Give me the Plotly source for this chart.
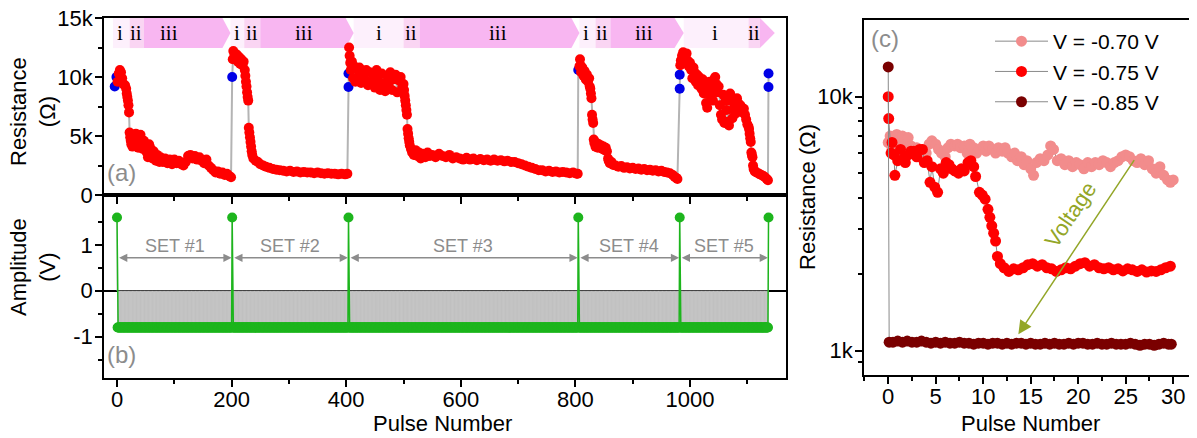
import math
import plotly.graph_objects as go

FONT = "Arial, Liberation Sans, sans-serif"
SERIF = "Times New Roman, Liberation Serif, serif"

# ---------------- Panel (a): resistance vs pulse number (kOhm) ----------------
BLUE_X = [-4, -1, 201, 404, 404, 805, 982, 982, 1137, 1137]
BLUE_R = [9.2, 10.0, 10.0, 9.15, 10.3, 10.6, 9.0, 10.2, 9.15, 10.3]

P1 = [1, 3, 5, 7, 9, 11, 13, 14, 16, 17, 18, 19, 20, 21,
      22, 23, 24, 25, 27, 29, 31, 33, 35, 37, 39, 41, 43, 45, 47, 49,
      52, 54, 56, 58, 60, 62, 64, 66, 68, 70, 72, 74,
      76, 80, 84, 88, 92, 96, 100, 104, 108, 112, 116, 120,
      124, 128, 132, 136, 140, 144,
      148, 152, 156, 160, 164,
      168, 172, 176, 180, 184, 188, 192, 196, 199]
R1 = [9.6, 10.3, 10.6, 10.4, 9.9, 9.4, 9.3, 9.3, 9.0, 8.6, 8.3, 8.0, 7.6, 7.0,
      5.3, 4.9, 4.6, 4.3, 4.1, 5.1, 4.8, 5.2, 4.5, 4.0, 5.0, 5.1, 4.2, 3.9, 4.6, 4.2,
      3.6, 3.2, 4.3, 4.0, 3.5, 3.1, 3.7, 3.3, 2.9, 3.4, 3.0, 2.8,
      3.2, 2.8, 3.1, 2.7, 3.0, 2.6, 3.0, 2.7, 2.9, 2.6, 2.5, 2.8,
      3.3, 3.4, 3.1, 3.3, 3.0, 3.2,
      2.9, 2.7, 3.0, 2.5, 2.3,
      2.1, 1.9, 2.0, 1.8, 1.9, 1.7, 1.8, 1.6, 1.5]

P2 = [202, 203, 205, 207, 209, 211, 213, 215, 217, 219, 221, 223, 224, 225, 226, 227, 228, 229,
      230, 231, 232, 233, 234, 235, 236,
      238, 242, 246, 250, 255, 260, 266, 272, 278, 284,
      290, 296, 302, 308, 314, 320, 326, 332, 338, 344, 350, 356, 362, 368, 374, 380, 386, 392, 398, 402]
R2 = [11.5, 12.2, 11.9, 11.5, 11.9, 11.3, 11.7, 11.1, 11.5, 11.0, 11.3, 10.6, 10.1, 9.6, 9.2, 8.7, 8.3, 8.0,
      5.7, 5.3, 4.9, 4.5, 4.1, 3.7, 3.4,
      3.1, 2.9, 2.8, 2.6, 2.5, 2.4, 2.3, 2.2, 2.15, 2.1,
      2.05, 2.0, 2.05, 1.95, 2.0, 1.9, 1.95, 1.9, 1.9, 1.85, 1.9, 1.85, 1.8, 1.85, 1.8, 1.8, 1.75, 1.8, 1.75, 1.8]

P3 = [405, 406, 407, 408, 410, 412, 414, 416, 418, 420, 423, 426, 429, 432, 435, 438, 441, 444,
      447, 450, 453, 456, 459, 462, 465, 468, 471, 474, 477, 480, 483, 486, 489, 492, 495, 498,
      500, 501, 502, 503, 504, 505, 506,
      507, 508, 509, 510, 511, 513, 515,
      518, 521, 524, 527, 530, 534, 538, 542, 546,
      550, 556, 562, 568, 574, 580, 586, 592, 598, 604, 610, 616, 622, 628, 634, 640,
      646, 652, 658, 664, 670, 676, 682, 688, 694, 700,
      706, 712, 718, 724, 730, 736,
      742, 748, 754, 760, 766, 772, 778, 784, 790, 796, 802, 804]
R3 = [12.5, 11.8, 11.2, 10.6, 11.3, 9.9, 10.9, 9.6, 10.7, 10.0, 10.8, 9.5, 10.5, 9.8, 10.6, 9.3, 10.4, 9.6,
      10.2, 9.1, 10.6, 9.7, 8.9, 10.3, 9.4, 8.8, 10.1, 9.5, 10.4, 8.9, 9.8, 10.2, 8.7, 9.7, 10.0, 9.2,
      9.4, 8.9, 8.4, 8.0, 7.6, 7.2, 6.8,
      5.6, 5.2, 4.8, 4.5, 4.2, 3.9, 3.6,
      3.4, 3.8, 3.3, 3.6, 3.1, 3.5, 3.2, 3.6, 3.3,
      3.4, 3.2, 3.5, 3.3, 3.2, 3.4, 3.1, 3.2, 3.1, 3.0, 3.15, 3.0, 3.1, 2.95, 3.05, 2.95,
      3.0, 2.9, 3.0, 2.9, 2.95, 2.85, 2.9, 2.8, 2.8, 2.7,
      2.6, 2.5, 2.4, 2.3, 2.2, 2.1,
      2.1, 2.0, 2.05, 1.95, 2.0, 1.9, 1.95, 1.9, 1.85, 1.9, 1.8, 1.8]

P4 = [807, 808, 809, 810, 812, 814, 816, 818, 820, 822, 824, 825, 826, 827, 828,
      829, 830, 831,
      832, 833, 835, 837, 839, 841, 843, 845, 847, 849, 851, 853, 855,
      857, 858, 860, 863, 866,
      870, 875, 880, 885, 890, 895, 900, 905, 910, 915, 920, 925, 930, 935, 940, 945, 950, 955,
      960, 965, 970, 973, 976, 978]
R4 = [10.9, 11.5, 11.0, 10.4, 10.8, 10.1, 10.5, 9.8, 10.2, 9.6, 9.9, 9.2, 9.0, 8.6, 8.2,
      6.8, 6.4, 6.1,
      4.7, 4.4, 4.1, 4.4, 4.0, 4.3, 4.1, 4.2, 3.9, 4.1, 3.8, 4.0, 3.7,
      3.1, 2.9, 2.7, 2.8, 2.55,
      2.5, 2.4, 2.45, 2.3, 2.35, 2.25, 2.3, 2.2, 2.25, 2.15, 2.2, 2.1, 2.15, 2.05, 2.1, 2.0, 2.05, 1.95,
      1.9, 1.85, 1.7, 1.55, 1.45, 1.35]

P5 = [983, 984, 986, 988, 990, 992, 994, 996, 998, 1000, 1002, 1004, 1006, 1008, 1010, 1012,
      1014, 1016, 1018, 1020, 1022, 1024, 1026, 1028, 1030, 1032, 1034, 1036, 1038, 1040, 1042,
      1044, 1046, 1048, 1050, 1052, 1054, 1056, 1058, 1060, 1062, 1064, 1066, 1068, 1070, 1072,
      1074, 1076, 1078, 1080, 1082, 1084, 1086, 1088, 1090, 1092, 1094, 1096, 1098, 1100, 1102,
      1103, 1104, 1105, 1106,
      1107, 1108, 1109,
      1110, 1111, 1113, 1116, 1119, 1122, 1125, 1128, 1131, 1134, 1136]
R5 = [11.0, 11.4, 11.8, 12.1, 11.9, 11.5, 12.0, 11.4, 10.9, 11.2, 10.6, 9.9, 10.8, 10.4, 9.6, 10.2,
      9.3, 10.0, 9.7, 9.0, 9.8, 8.6, 9.4, 7.8, 7.4, 8.9, 9.6, 8.4, 9.2, 8.0, 9.8,
      10.0, 9.4, 8.7, 9.2, 7.6, 6.8, 6.4, 8.5, 6.1, 8.0, 7.2, 6.2, 5.9, 8.6, 8.0,
      6.5, 7.2, 7.6, 6.9, 8.2, 7.8, 7.4, 7.6, 7.2, 7.0, 7.3, 6.8, 6.4, 6.0, 5.8,
      5.6, 5.2, 4.8, 4.5,
      3.6, 3.4, 3.2,
      2.5, 2.2, 2.0, 1.9, 1.85, 1.75, 1.7, 1.6, 1.5, 1.35, 1.25]

# phase bands (i / ii / iii) : [start, end] in pulse number, iii ends with arrow tip
PHASE_I = [[-7, 22], [198, 222], [413, 500], [807, 835], [989, 1102]]
PHASE_II = [[22, 47], [222, 250], [500, 528], [835, 861], [1102, 1122]]
PHASE_III = [[47, 184, 198], [250, 399, 413], [528, 793, 807], [861, 973, 989], [1122, 1122, 1148]]
LABEL_TXT = ["i", "ii", "iii", "i", "ii", "iii", "i", "ii", "iii", "i", "ii", "iii", "i", "ii"]
LABEL_X = [5, 33, 91, 210, 236, 326, 457, 513, 665, 819, 847, 920, 1043, 1111]
BAND_Y = [12.45, 15.0]

# ---------------- Panel (b): pulse amplitude ----------------
N_PULSES = 1138
RESET_PULSES = [0, 201, 404, 805, 982, 1137]
SET_AMPLITUDE_V = -0.8
RESET_AMPLITUDE_V = 1.6
SET_NAMES = ["SET #1", "SET #2", "SET #3", "SET #4", "SET #5"]

# ---------------- Panel (c): resistance (kOhm) for 3 voltages ----------------
X070 = [0.0, 0.2, 0.4, 0.6, 0.9, 1.2, 1.5, 1.8, 2.1, 2.4, 2.7, 3.0, 3.3, 3.6, 4.0, 4.3, 4.6, 5.0,
        5.3, 5.6, 6.0, 6.3, 6.6, 7.0, 7.3, 7.6, 8.0, 8.3, 8.6, 9.0, 9.3, 9.6, 10.0, 10.3, 10.6,
        11.0, 11.3, 11.6, 12.0, 12.3, 12.6, 13.0, 13.3, 13.6, 14.0, 14.3, 14.6, 15.0, 15.3, 15.6,
        16.0, 16.4, 16.8, 17.1, 17.4, 17.8, 18.2, 18.6, 19.0, 19.4, 19.8, 20.2, 20.6, 21.0, 21.4,
        21.8, 22.2, 22.6, 23.0, 23.4, 23.8, 24.2, 24.6, 25.0, 25.4, 25.8, 26.2, 26.6, 27.0, 27.4,
        27.8, 28.2, 28.6, 29.0, 29.4, 29.7, 30.0]
R070 = [6.6, 7.0, 6.3, 6.8, 7.1, 6.6, 7.0, 6.5, 6.9, 6.4, 6.0, 6.3, 5.9, 6.2, 6.0, 6.5, 6.7, 6.5,
        6.2, 6.0, 5.8, 6.3, 6.5, 6.4, 6.5, 6.3, 6.4, 6.0, 6.5, 6.3, 6.0, 6.2, 6.4, 6.1, 6.4,
        6.2, 6.0, 6.3, 6.1, 6.3, 6.0, 5.8, 6.0, 5.6, 5.8, 5.4, 5.6, 5.2, 4.9, 5.5,
        5.7, 5.6, 5.9, 6.4, 6.2, 5.6, 5.7, 5.4, 5.6, 5.3, 5.5, 5.4, 5.2, 5.5, 5.3,
        5.5, 5.4, 5.6, 5.5, 5.3, 5.5, 5.6, 5.8, 5.9, 5.8, 5.6, 5.5, 5.7, 5.4, 5.6,
        5.2, 5.0, 5.3, 4.9, 4.7, 4.6, 4.7]

X075 = [0.0, 0.05, 0.3, 0.4, 0.6, 0.7, 1.0, 1.3, 1.6, 1.8, 2.1, 2.4, 2.7, 3.0, 3.3, 3.6, 3.8, 4.1,
        4.4, 4.6, 4.9, 5.2, 5.5, 5.8, 6.1, 6.4, 6.7, 7.0, 7.4, 7.7, 8.0, 8.4, 8.7, 9.0, 9.2, 9.6,
        9.9, 10.2, 10.5, 10.7, 10.9, 11.1, 11.3, 11.5, 11.8,
        12.2, 12.7, 13.2, 13.7, 14.2, 14.7, 15.2, 15.7, 16.2, 16.7, 17.2, 17.7, 18.2, 18.7, 19.2,
        19.7, 20.2, 20.7, 21.2, 21.7, 22.2, 22.7, 23.2, 23.7, 24.2, 24.7, 25.2, 25.7, 26.2, 26.7,
        27.2, 27.7, 28.2, 28.7, 29.2, 29.7]
R075 = [10.0, 8.2, 6.0, 6.6, 5.9, 4.9, 5.6, 6.2, 5.7, 5.5, 5.9, 6.1, 6.1, 5.8, 6.2, 6.2, 5.5, 5.6,
        4.6, 5.3, 4.4, 4.2, 5.2, 5.0, 5.5, 5.4, 5.2, 5.1, 5.0, 5.2, 5.1, 5.5, 5.6, 5.3, 4.85, 4.2,
        4.1, 3.95, 3.6, 3.35, 3.1, 2.9, 2.7, 2.35, 2.2,
        2.12, 2.05, 2.1, 2.08, 2.12, 2.18, 2.2, 2.15, 2.18, 2.12, 2.1, 2.05, 2.08, 2.12, 2.1,
        2.15, 2.2, 2.22, 2.15, 2.18, 2.12, 2.1, 2.12, 2.08, 2.1, 2.06, 2.1, 2.08, 2.05, 2.08,
        2.04, 2.06, 2.05, 2.08, 2.12, 2.15]

X085 = [0.0, 0.1, 0.5, 1.0, 1.5, 2.0, 2.5, 3.0, 3.5, 4.0, 4.5, 5.0, 5.5, 6.0, 6.5, 7.0, 7.5, 8.0,
        8.5, 9.0, 9.5, 10.0, 10.5, 11.0, 11.5, 12.0, 12.5, 13.0, 13.5, 14.0, 14.5, 15.0, 15.5,
        16.0, 16.5, 17.0, 17.5, 18.0, 18.5, 19.0, 19.5, 20.0, 20.5, 21.0, 21.5, 22.0, 22.5, 23.0,
        23.5, 24.0, 24.5, 25.0, 25.5, 26.0, 26.5, 27.0, 27.5, 28.0, 28.5, 29.0, 29.5, 29.8]
R085 = [13.1, 1.08, 1.08, 1.09, 1.08, 1.09, 1.08, 1.08, 1.09, 1.08, 1.07, 1.08, 1.07, 1.08, 1.07,
        1.07, 1.08, 1.07, 1.07, 1.06, 1.07, 1.07, 1.06, 1.07, 1.07, 1.06, 1.07, 1.06, 1.07, 1.07,
        1.06, 1.07, 1.06, 1.06, 1.07, 1.06, 1.07, 1.06, 1.06, 1.07, 1.06, 1.07, 1.07, 1.06, 1.06,
        1.07, 1.06, 1.06, 1.07, 1.06, 1.06, 1.06, 1.07, 1.06, 1.05, 1.06, 1.06, 1.05, 1.06, 1.07,
        1.06, 1.06]

C_PINK = "#F28C8C"
C_RED = "#FF0000"
C_DARK = "#7A0000"
C_BLUE = "#0000E6"
C_GREEN = "#1DB51D"
C_GRAY_TXT = "#8C8C8C"
C_OLIVE = "#93A628"
C_I, C_II, C_III = "#FDF0FC", "#FAD5F3", "#F8B6F1"

# the page places the figure 8 px from the top-left corner of the window
OFF = 8
W, H = 1197 - OFF, 438 - OFF
def px_x(p): return (p - OFF) / W
def px_y(p): return 1 - (p - OFF) / H

fig = go.Figure()

# ---- panel (a) traces ----
seq_x = BLUE_X[0:2] + P1 + [BLUE_X[2]] + P2 + BLUE_X[3:5] + P3 + [BLUE_X[5]] + P4 + BLUE_X[6:8] + P5 + BLUE_X[8:10]
seq_y = BLUE_R[0:2] + R1 + [BLUE_R[2]] + R2 + BLUE_R[3:5] + R3 + [BLUE_R[5]] + R4 + BLUE_R[6:8] + R5 + BLUE_R[8:10]
fig.add_trace(go.Scatter(x=seq_x, y=seq_y, mode="lines", line=dict(color="#B4B4B4", width=2),
                         xaxis="x", yaxis="y", showlegend=False, hoverinfo="skip"))
fig.add_trace(go.Scatter(x=BLUE_X, y=BLUE_R, mode="markers", marker=dict(color=C_BLUE, size=10),
                         xaxis="x", yaxis="y", showlegend=False))
fig.add_trace(go.Scatter(x=P1 + P2 + P3 + P4 + P5, y=R1 + R2 + R3 + R4 + R5, mode="markers",
                         marker=dict(color=C_RED, size=10), xaxis="x", yaxis="y", showlegend=False))

# ---- panel (b) traces ----
amp_x = list(range(N_PULSES))
amp_y = [RESET_AMPLITUDE_V if p in RESET_PULSES else SET_AMPLITUDE_V for p in amp_x]
drop_x, drop_y = [], []
for p, a in zip(amp_x, amp_y):
    drop_x += [p, p, None]
    drop_y += [0, a, None]
fig.add_trace(go.Scatter(x=drop_x, y=drop_y, mode="lines", line=dict(color="#C0C0C0", width=1),
                         xaxis="x2", yaxis="y2", showlegend=False, hoverinfo="skip"))
fig.add_trace(go.Scatter(x=amp_x, y=amp_y, mode="lines+markers", line=dict(color=C_GREEN, width=1.5),
                         marker=dict(color=C_GREEN, size=10), xaxis="x2", yaxis="y2", showlegend=False))

# ---- panel (c) traces ----
for xs, ys, col, name in [(X070, R070, C_PINK, "V = -0.70 V"),
                          (X075, R075, C_RED, "V = -0.75 V"),
                          (X085, R085, C_DARK, "V = -0.85 V")]:
    fig.add_trace(go.Scatter(x=xs, y=ys, mode="lines+markers", name=name,
                             line=dict(color="#8A8A8A", width=1),
                             marker=dict(color=col, size=11),
                             xaxis="x3", yaxis="y3", showlegend=True))

# ---- shapes: phase bands ----
shapes = []
for a, b in PHASE_I:
    shapes.append(dict(type="rect", xref="x", yref="y", x0=a, x1=b, y0=BAND_Y[0], y1=BAND_Y[1],
                       fillcolor=C_I, line=dict(width=0), layer="below"))
for a, b in PHASE_II:
    shapes.append(dict(type="rect", xref="x", yref="y", x0=a, x1=b, y0=BAND_Y[0], y1=BAND_Y[1],
                       fillcolor=C_II, line=dict(width=0), layer="below"))
ymid = (BAND_Y[0] + BAND_Y[1]) / 2
for a, b, tip in PHASE_III:
    path = f"M {a},{BAND_Y[0]} L {b},{BAND_Y[0]} L {tip},{ymid} L {b},{BAND_Y[1]} L {a},{BAND_Y[1]} Z"
    shapes.append(dict(type="path", xref="x", yref="y", path=path, fillcolor=C_III,
                       line=dict(width=0), layer="below"))

def note(**kw):
    kw.setdefault("xanchor", "center")
    kw.setdefault("yanchor", "middle")
    kw.setdefault("showarrow", False)
    return kw

annotations = []
for t, x in zip(LABEL_TXT, LABEL_X):
    annotations.append(note(x=x, y=ymid, xref="x", yref="y", text=t,
                            font=dict(family=SERIF, size=21, color="black")))

# SET arrows
for k, name in enumerate(SET_NAMES):
    a, b = RESET_PULSES[k] + 1, RESET_PULSES[k + 1] - 1
    annotations.append(dict(x=b, y=0.72, ax=a, ay=0.72, xref="x2", yref="y2", axref="x2", ayref="y2",
                            text="", showarrow=True, arrowhead=2, startarrowhead=2, arrowside="end+start",
                            arrowsize=1.1, startarrowsize=1.1, arrowwidth=1.5, arrowcolor=C_GRAY_TXT))
    annotations.append(note(x=(RESET_PULSES[k] + RESET_PULSES[k + 1]) / 2, y=0.97, xref="x2", yref="y2",
                            text=name, font=dict(family=FONT, size=18, color=C_GRAY_TXT)))

# panel letters
annotations += [
    note(x=8, y=1.9, xref="x", yref="y", text="(a)", font=dict(family=FONT, size=24, color=C_GRAY_TXT)),
    note(x=8, y=-1.4, xref="x2", yref="y2", text="(b)", font=dict(family=FONT, size=24, color=C_GRAY_TXT)),
    note(x=-0.3, y=math.log10(17.0), xref="x3", yref="y3", text="(c)",
         font=dict(family=FONT, size=24, color=C_GRAY_TXT)),
]

# Voltage arrow
annotations.append(dict(x=13.7, y=math.log10(1.16), ax=26.0, ay=math.log10(5.7),
                        xref="x3", yref="y3", axref="x3", ayref="y3", text="", showarrow=True,
                        arrowhead=2, arrowsize=1.8, arrowwidth=1.5, arrowcolor=C_OLIVE))
annotations.append(note(x=19.2, y=math.log10(3.43), xref="x3", yref="y3", text="Voltage",
                        textangle=-56, font=dict(family=FONT, size=22, color=C_OLIVE)))

# axis titles
annotations += [
    note(x=px_x(33), y=px_y(112), xref="paper", yref="paper", text="Resistance<br>(Ω)", textangle=-90,
         font=dict(family=FONT, size=22, color="black")),
    note(x=px_x(33), y=px_y(267), xref="paper", yref="paper", text="Amplitude<br>(V)", textangle=-90,
         font=dict(family=FONT, size=22, color="black")),
    note(x=px_x(807), y=px_y(197), xref="paper", yref="paper", text="Resistance (Ω)", textangle=-90,
         font=dict(family=FONT, size=22, color="black")),
    note(x=px_x(442), y=px_y(423), xref="paper", yref="paper", text="Pulse Number",
         font=dict(family=FONT, size=22, color="black")),
    note(x=px_x(1030), y=px_y(423), xref="paper", yref="paper", text="Pulse Number",
         font=dict(family=FONT, size=22, color="black")),
]

axis_common = dict(showline=True, linecolor="black", linewidth=1.5, mirror=True, showgrid=False,
                   zeroline=False, ticks="outside", ticklen=7, tickwidth=1.5, tickcolor="black",
                   automargin=False, ticklabeloverflow="allow",
                   tickfont=dict(family=FONT, size=22, color="black"))
minor_common = dict(ticks="outside", ticklen=4, tickwidth=1.5, tickcolor="black", showgrid=False)
XSTAND = -6
YSTAND = -2

XDOM_AB = [px_x(104), px_x(786)]
XR_AB = [-22.7, 1167.5]
MAJ_X = [0, 200, 400, 600, 800, 1000]
MIN_X = [100, 300, 500, 700, 900, 1100]

fig.update_layout(
    width=W, height=H, autosize=False,
    margin=dict(l=0, r=0, t=0, b=0, pad=0, autoexpand=False),
    paper_bgcolor="white", plot_bgcolor="white",
    shapes=shapes, annotations=annotations,
    xaxis=dict(domain=XDOM_AB, anchor="y", range=XR_AB, tickmode="array", tickvals=MAJ_X,
               showticklabels=False, minor=dict(tickmode="array", tickvals=MIN_X, **minor_common),
               **axis_common),
    yaxis=dict(domain=[px_y(195), px_y(18)], anchor="x", range=[0, 15], tickmode="array",
               tickvals=[0, 5, 10, 15], ticktext=["0", "5k", "10k", "15k"], ticklabelstandoff=YSTAND,
               minor=dict(tickmode="array", tickvals=[2.5, 7.5, 12.5], **minor_common), **axis_common),
    xaxis2=dict(domain=XDOM_AB, anchor="y2", range=XR_AB, tickmode="array", tickvals=MAJ_X,
                ticklabelstandoff=XSTAND,
                minor=dict(tickmode="array", tickvals=MIN_X, **minor_common), **axis_common),
    yaxis2=dict(domain=[px_y(378.3), px_y(195)], anchor="x2", range=[-1.91, 2.09], tickmode="array",
                tickvals=[-1, 0, 1], ticktext=["-1", "0", "1"], ticklabelstandoff=YSTAND,
                minor=dict(tickmode="array", tickvals=[-1.5, -0.5, 0.5, 1.5], **minor_common),
                **axis_common),
    xaxis3=dict(domain=[px_x(864), min(1.0, px_x(1196))], anchor="y3", range=[-2.55, 32.4], tickmode="array",
                tickvals=[0, 5, 10, 15, 20, 25, 30], ticklabelstandoff=XSTAND,
                minor=dict(tickmode="array", tickvals=[-2.5, 2.5, 7.5, 12.5, 17.5, 22.5, 27.5], **minor_common),
                **axis_common),
    yaxis3=dict(domain=[px_y(375), px_y(20)], anchor="x3", type="log", range=[-0.096, 1.302],
                tickmode="array", tickvals=[1, 10], ticktext=["1k", "10k"], ticklabelstandoff=YSTAND,
                minor=dict(tickmode="array", tickvals=[0.8, 0.9, 2, 3, 4, 5, 6, 7, 8, 9], **minor_common),
                **axis_common),
    legend=dict(x=px_x(990), y=px_y(21), xanchor="left", yanchor="top", bgcolor="rgba(0,0,0,0)",
                font=dict(family=FONT, size=21, color="black"), itemwidth=53, tracegroupgap=0),
)
fig.layout.yaxis2.zeroline = True
fig.layout.yaxis2.zerolinecolor = "black"
fig.layout.yaxis2.zerolinewidth = 1.5

fig.write_html("out.html")
